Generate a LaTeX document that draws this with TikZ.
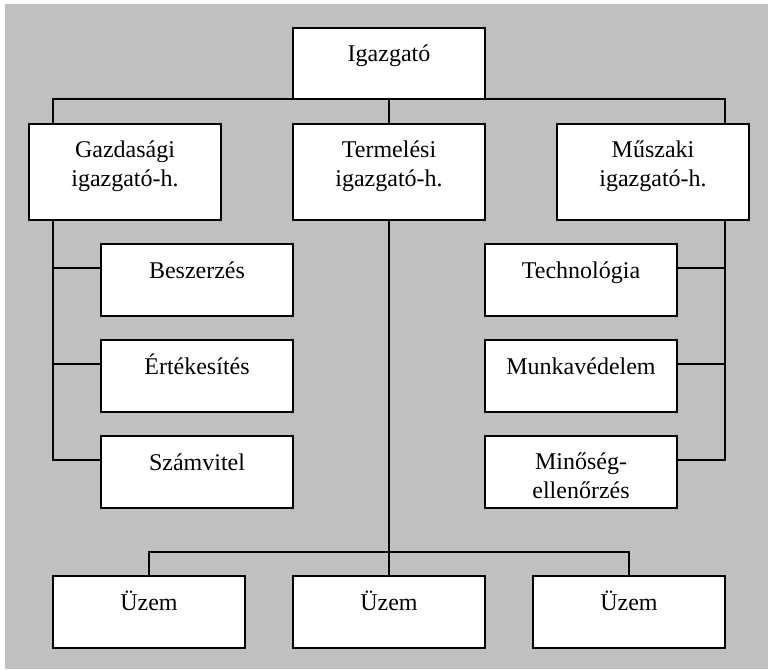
\documentclass[tikz,border=0pt]{standalone}
\usepackage{fontspec}
\setmainfont{Liberation Serif}
\usetikzlibrary{calc}
\definecolor{panelgrey}{HTML}{C0C0C0}
\tikzset{
  orgbox/.style={draw=black, fill=white, line width=1.6pt, inner sep=0pt, outer sep=0pt,
    anchor=north west, minimum width=192pt},
  tallbox/.style={orgbox, minimum height=96pt},
  unitbox/.style={orgbox, minimum height=72pt},
  toptext/.style={font=\fontsize{24}{29}\selectfont, anchor=base, align=center, inner sep=0pt},
  wire/.style={draw=black, line width=1.6pt}
}
\begin{document}
\begin{tikzpicture}[x=1pt, y=-1pt]
  \useasboundingbox (0,0) rectangle (768,669);
  \fill[panelgrey] (5,4) rectangle (768,669);

  % boxes
  \node[orgbox, minimum height=71pt] (ig) at (293,28) {};
  \node[tallbox] (gaz) at (29,124) {};
  \node[tallbox] (ter) at (293,124) {};
  \node[tallbox] (mus) at (557,124) {};
  \node[unitbox] (besz) at (101,244) {};
  \node[unitbox] (ert) at (101,340) {};
  \node[unitbox] (szam) at (101,436) {};
  \node[unitbox] (tech) at (485,244) {};
  \node[unitbox] (munka) at (485,340) {};
  \node[unitbox] (minos) at (485,436) {};
  \node[unitbox] (u1) at (53,576) {};
  \node[unitbox] (u2) at (293,576) {};
  \node[unitbox] (u3) at (533,576) {};

  % labels, set near the top of each box (base = last line's baseline)
  \node[toptext] (tig) at ([yshift=-34pt]ig.north) {Igazgató};
  \node[toptext] (tgaz) at ([yshift=-62pt]gaz.north) {Gazdasági\\igazgató-h.};
  \node[toptext] (tter) at ([yshift=-62pt]ter.north) {Termelési\\igazgató-h.};
  \node[toptext] (tmus) at ([yshift=-62pt]mus.north) {Műszaki\\igazgató-h.};
  \node[toptext] (tbesz) at ([yshift=-34pt]besz.north) {Beszerzés};
  \node[toptext] (tert) at ([yshift=-34pt]ert.north) {Értékesítés};
  \node[toptext] (tszam) at ([yshift=-34pt]szam.north) {Számvitel};
  \node[toptext] (ttech) at ([yshift=-34pt]tech.north) {Technológia};
  \node[toptext] (tmunka) at ([yshift=-34pt]munka.north) {Munkavédelem};
  \node[toptext] (tminos) at ([yshift=-62pt]minos.north) {Minőség-\\ellenőrzés};
  \node[toptext] (tu1) at ([yshift=-34pt]u1.north) {Üzem};
  \node[toptext] (tu2) at ([yshift=-34pt]u2.north) {Üzem};
  \node[toptext] (tu3) at ([yshift=-34pt]u3.north) {Üzem};

  % attachment points on the box edges
  \coordinate (gazTop) at ([xshift=24pt]gaz.north west);
  \coordinate (gazBot) at ([xshift=24pt]gaz.south west);
  \coordinate (musTop) at ([xshift=-24pt]mus.north east);
  \coordinate (musBot) at ([xshift=-24pt]mus.south east);

  % director to the three deputies
  \draw[wire] (gazTop) |- (ig.south west);
  \draw[wire] (ig.south east) -| (musTop);
  \draw[wire] (ig.south) -- (ter.north);

  % economic branch
  \draw[wire] (gazBot) |- ([yshift=-24pt]szam.north west);
  \draw[wire] (gazBot |- besz.north) ++(0,24) -- ([yshift=-24pt]besz.north west);
  \draw[wire] (gazBot |- ert.north) ++(0,24) -- ([yshift=-24pt]ert.north west);

  % technical branch
  \draw[wire] (musBot) |- ([yshift=-24pt]minos.north east);
  \draw[wire] (musBot |- tech.north) ++(0,24) -- ([yshift=-24pt]tech.north east);
  \draw[wire] (musBot |- munka.north) ++(0,24) -- ([yshift=-24pt]munka.north east);

  % production branch
  \draw[wire] (ter.south) -- (u2.north);
  \draw[wire] (u1.north) -- ++(0,-24) -| (u3.north);
\end{tikzpicture}
\end{document}
